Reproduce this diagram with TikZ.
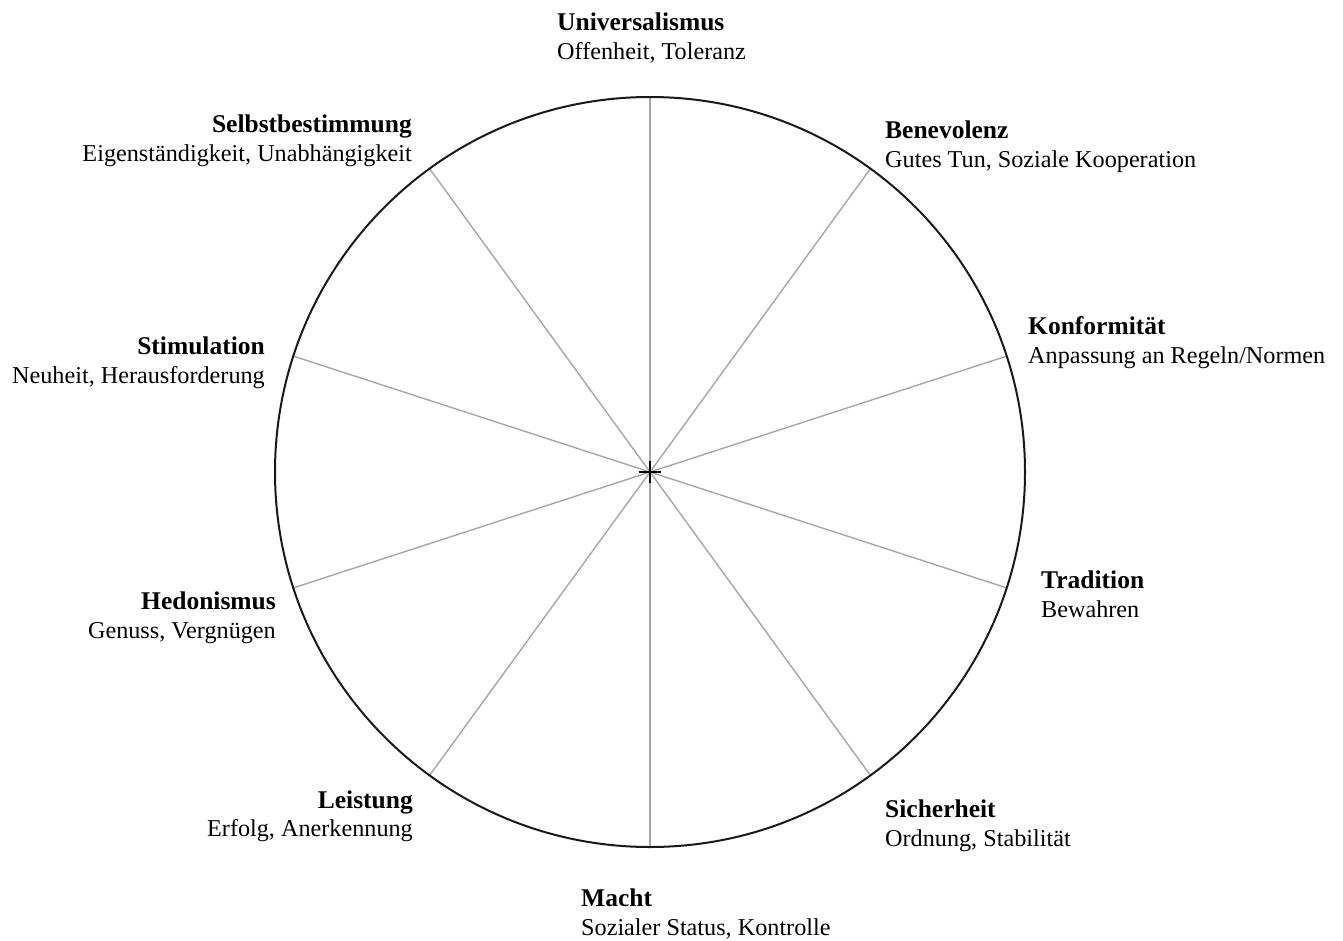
\documentclass[tikz,border=0pt]{standalone}
\usepackage{fontspec}
\setmainfont{Liberation Serif}
\usetikzlibrary{positioning}

\tikzset{
  titel/.style={inner sep=0pt, font=\fontsize{25.5}{29}\selectfont\bfseries},
  unter/.style={inner sep=0pt, font=\fontsize{24.2}{29}\selectfont},
  speiche/.style={gray!70, line width=1.4pt},
}

\begin{document}
\begin{tikzpicture}[x=1pt,y=1pt]
\useasboundingbox (0,0) rectangle (1343,-940);

\coordinate (mitte) at (650,-472);

% spokes, every 36 degrees
\foreach \w [count=\i] in {90,54,18,-18,-54,-90,-126,-162,162,126}{
  \path (mitte) ++(\w:375) coordinate (rand\i);
  \draw[speiche] (mitte) -- (rand\i);
}
\draw[black!90, line width=2pt] (mitte) circle (375); % outer ring
\draw[black, line width=1.4pt] (mitte) +(-11,0) -- +(11,0) (mitte) +(0,-11) -- +(0,11); % centre mark

% right half
\node[titel, anchor=base west] (univ) at (557,-30) {Universalismus};
\node[unter, anchor=base west] (univ-u) at (557,-59) {Offenheit, Toleranz};
\node[titel, anchor=base west] (bene) at (885,-138) {Benevolenz};
\node[unter, anchor=base west] (bene-u) at (885,-167) {Gutes Tun, Soziale Kooperation};
\node[titel, anchor=base west] (konf) at (1028,-334) {Konformität};
\node[unter, anchor=base west] (konf-u) at (1028,-363) {Anpassung an Regeln/Normen};
\node[titel, anchor=base west] (trad) at (1041,-588) {Tradition};
\node[unter, anchor=base west] (trad-u) at (1041,-617) {Bewahren};
\node[titel, anchor=base west] (sich) at (885,-817) {Sicherheit};
\node[unter, anchor=base west] (sich-u) at (885,-846) {Ordnung, Stabilität};
\node[titel, anchor=base west] (macht) at (581,-906) {Macht};
\node[unter, anchor=base west] (macht-u) at (581,-935) {Sozialer Status, Kontrolle};

% left half
\node[titel, anchor=base east] (leis) at (413,-808) {Leistung};
\node[unter, anchor=base east] (leis-u) at (413,-836) {Erfolg, Anerkennung};
\node[titel, anchor=base east] (hedo) at (276,-609) {Hedonismus};
\node[unter, anchor=base east] (hedo-u) at (276,-638) {Genuss, Vergnügen};
\node[titel, anchor=base east] (stim) at (265,-354) {Stimulation};
\node[unter, anchor=base east] (stim-u) at (265,-383) {Neuheit, Herausforderung};
\node[titel, anchor=base east] (selb) at (412,-132) {Selbstbestimmung};
\node[unter, anchor=base east] (selb-u) at (412,-161) {Eigenständigkeit, Unabhängigkeit};
\end{tikzpicture}
\end{document}
